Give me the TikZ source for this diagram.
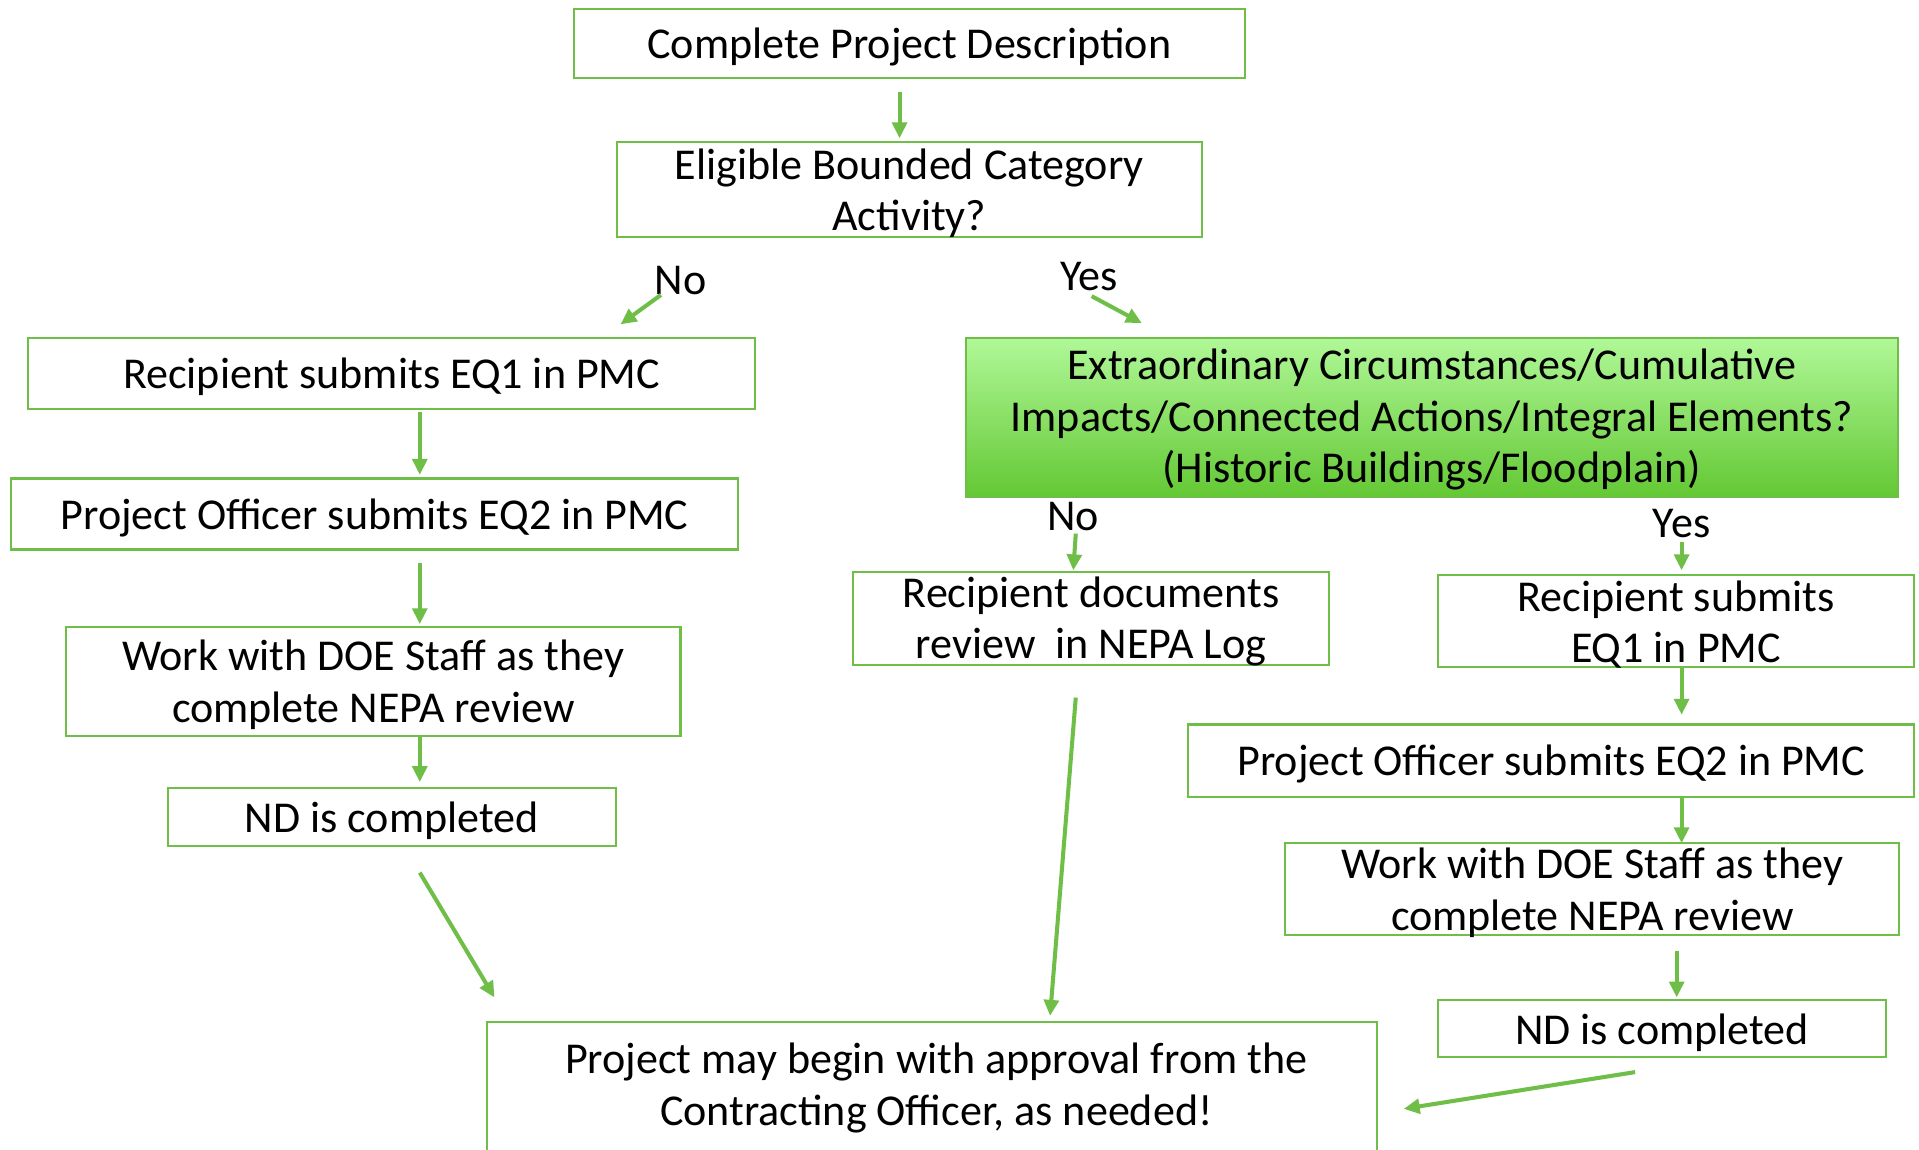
\documentclass[tikz,border=0pt]{standalone}
\usepackage{fontspec}
\setmainfont{Carlito}
\usetikzlibrary{arrows.meta}
\definecolor{lg}{RGB}{110,190,72}
\definecolor{gtop}{RGB}{176,248,152}
\definecolor{gbot}{RGB}{100,200,52}
\tikzset{
  box/.style={draw=lg, line width=1.7pt, rectangle, inner sep=0pt},
  txt/.style={inner sep=0pt, align=center, font=\fontsize{36}{42}\selectfont},
  lbl/.style={inner sep=0pt, font=\fontsize{36}{42}\selectfont},
  arr/.style={draw=lg, line width=3.3pt, -{Triangle[length=13pt,width=12pt]}},
}
\newcommand\mybox[5]{%
  \node[box, minimum width=#2, minimum height=#3] (#1) at (#4) {};
  \node[txt] (#1t) at ([yshift=-3pt]#1.center) {#5};}
\begin{document}
\begin{tikzpicture}[x=1pt,y=-1pt]
\useasboundingbox (0,0) rectangle (1568,939);
\clip (0,0) rectangle (1568,939);
\fill[white] (0,0) rectangle (1568,939);
% left column
\mybox{A}{548}{57}{743,35.5}{Complete Project Description}
\mybox{B}{478}{78}{743,155}{Eligible Bounded Category\\Activity?}
\mybox{C}{594}{58}{320,305}{Recipient submits EQ1 in PMC}
\mybox{D}{594}{58}{306,420}{Project Officer submits EQ2 in PMC}
\mybox{E}{502}{89}{305,556.5}{Work with DOE Staff as they\\complete NEPA review}
\mybox{F}{366}{47}{320,667.5}{ND is completed}
% right part
\node[box, minimum width=762, minimum height=130, shade, top color=gtop, bottom color=gbot] (G) at (1170,341) {};
\node[txt] (Gt) at ([yshift=-2pt]G.center) {Extraordinary Circumstances/Cumulative\\Impacts/Connected Actions/Integral Elements?\\(Historic Buildings/Floodplain)};
\mybox{H}{389}{76}{891.5,505}{Recipient documents\\review\ \ in NEPA Log}
\mybox{I}{389}{75}{1369.5,507.5}{Recipient submits\\EQ1 in PMC}
\mybox{J}{593}{59}{1267.5,621.5}{Project Officer submits EQ2 in PMC}
\mybox{K}{502}{75}{1301,726.5}{Work with DOE Staff as they\\complete NEPA review}
\mybox{L}{366}{47}{1358,840.5}{ND is completed}
\node[box, minimum width=727, minimum height=120, anchor=north] (M) at (761.5,834) {};
\node[txt] (Mt) at (765,889) {Project may begin with approval from the\\Contracting Officer, as needed!};
% labels
\node[lbl] (no1) at (556,229) {No};
\node[lbl] (yes1) at (890,226) {Yes};
\node[lbl] (no2) at (877,422) {No};
\node[lbl] (yes2) at (1374,428) {Yes};
% connector end points
\coordinate (a1s) at (735,75);   \coordinate (a1e) at (735,113);
\coordinate (n1s) at (540,241);  \coordinate (n1e) at (507,265);
\coordinate (y1s) at (892,242);  \coordinate (y1e) at (933,264);
\coordinate (c1s) at (343,337);  \coordinate (c1e) at (343,388);
\coordinate (d1s) at (343,460);  \coordinate (d1e) at (343,510);
\coordinate (e1s) at (343,602);  \coordinate (e1e) at (343,639);
\coordinate (f1s) at (343,713);  \coordinate (f1e) at (404,815);
\coordinate (n2s) at (879,436);  \coordinate (n2e) at (877,466);
\coordinate (y2s) at (1374,443); \coordinate (y2e) at (1374,466);
\coordinate (h1s) at (879,570);  \coordinate (h1e) at (858,830);
\coordinate (i1s) at (1374,546); \coordinate (i1e) at (1374,584);
\coordinate (j1s) at (1374,651); \coordinate (j1e) at (1374,689);
\coordinate (k1s) at (1370,777); \coordinate (k1e) at (1370,815);
\coordinate (l1s) at (1336,876); \coordinate (l1e) at (1147,906);
\draw[arr] (a1s) -- (a1e);
\draw[arr] (n1s) -- (n1e);
\draw[arr] (y1s) -- (y1e);
\draw[arr] (c1s) -- (c1e);
\draw[arr] (d1s) -- (d1e);
\draw[arr] (e1s) -- (e1e);
\draw[arr] (f1s) -- (f1e);
\draw[arr] (n2s) -- (n2e);
\draw[arr] (y2s) -- (y2e);
\draw[arr] (h1s) -- (h1e);
\draw[arr] (i1s) -- (i1e);
\draw[arr] (j1s) -- (j1e);
\draw[arr] (k1s) -- (k1e);
\draw[arr] (l1s) -- (l1e);
\end{tikzpicture}
\end{document}
